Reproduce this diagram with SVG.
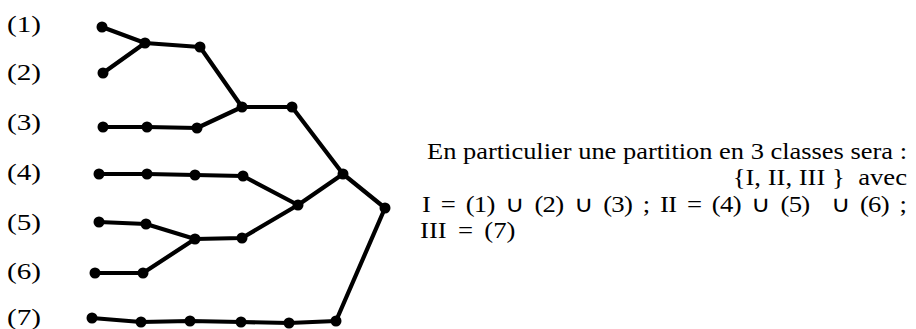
<svg xmlns="http://www.w3.org/2000/svg" width="916" height="329" viewBox="0 0 916 329">
<style>
.e{stroke:#000;stroke-width:4.2;fill:none;stroke-linejoin:round;stroke-linecap:round}
.n{fill:#000}
.lab{font-family:"Liberation Serif","Times New Roman",serif;font-size:23px;fill:#000}
.t{font-family:"Liberation Serif","Times New Roman",serif;font-size:23px;fill:#000}
.w{word-spacing:4px}
</style>
<rect width="916" height="329" fill="#fff"/>
<g id="labels">
<text class="lab" x="7" y="32" textLength="34" lengthAdjust="spacingAndGlyphs">(1)</text>
<text class="lab" x="7" y="80" textLength="34" lengthAdjust="spacingAndGlyphs">(2)</text>
<text class="lab" x="7" y="130" textLength="34" lengthAdjust="spacingAndGlyphs">(3)</text>
<text class="lab" x="7" y="180" textLength="34" lengthAdjust="spacingAndGlyphs">(4)</text>
<text class="lab" x="7" y="230" textLength="34" lengthAdjust="spacingAndGlyphs">(5)</text>
<text class="lab" x="7" y="279" textLength="34" lengthAdjust="spacingAndGlyphs">(6)</text>
<text class="lab" x="7" y="325" textLength="34" lengthAdjust="spacingAndGlyphs">(7)</text>
</g>
<g id="connectors">
<polyline class="e" points="102,27 145,43 200,47 242,107 292,107 343,174 385,208 336,321 289,323 241,322 190,321 141,322 92,318"/>
<polyline class="e" points="103,73 145,43"/>
<polyline class="e" points="103,127 147,127 197,128 242,107"/>
<polyline class="e" points="99,174 147,174 195,175 243,176 298,205 343,174"/>
<polyline class="e" points="99,222 146,224 195,239 242,238 298,205"/>
<polyline class="e" points="95,273 143,273 195,239"/>
</g>
<g id="nodes">
<circle id="n1" class="n" cx="102" cy="27" r="5.5"/>
<circle id="n2" class="n" cx="103" cy="73" r="5.5"/>
<circle id="j12" class="n" cx="145" cy="43" r="5.5"/>
<circle id="b12" class="n" cx="200" cy="47" r="5.5"/>
<circle id="n3a" class="n" cx="103" cy="127" r="5.5"/>
<circle id="n3b" class="n" cx="147" cy="127" r="5.5"/>
<circle id="n3c" class="n" cx="197" cy="128" r="5.5"/>
<circle id="j123" class="n" cx="242" cy="107" r="5.5"/>
<circle id="b123" class="n" cx="292" cy="107" r="5.5"/>
<circle id="n4a" class="n" cx="99" cy="174" r="5.5"/>
<circle id="n4b" class="n" cx="147" cy="174" r="5.5"/>
<circle id="n4c" class="n" cx="195" cy="175" r="5.5"/>
<circle id="n4d" class="n" cx="243" cy="176" r="5.5"/>
<circle id="j456" class="n" cx="298" cy="205" r="5.5"/>
<circle id="j16" class="n" cx="343" cy="174" r="5.5"/>
<circle id="root" class="n" cx="385" cy="208" r="5.5"/>
<circle id="n5a" class="n" cx="99" cy="222" r="5.5"/>
<circle id="n5b" class="n" cx="146" cy="224" r="5.5"/>
<circle id="j56" class="n" cx="195" cy="239" r="5.5"/>
<circle id="b56" class="n" cx="242" cy="238" r="5.5"/>
<circle id="n6a" class="n" cx="95" cy="273" r="5.5"/>
<circle id="n6b" class="n" cx="143" cy="273" r="5.5"/>
<circle id="n7a" class="n" cx="92" cy="318" r="5.5"/>
<circle id="n7b" class="n" cx="141" cy="322" r="5.5"/>
<circle id="n7c" class="n" cx="190" cy="321" r="5.5"/>
<circle id="n7d" class="n" cx="241" cy="322" r="5.5"/>
<circle id="n7e" class="n" cx="289" cy="323" r="5.5"/>
<circle id="n7f" class="n" cx="336" cy="321" r="5.5"/>
</g>
<g id="caption">
<text class="t" x="427" y="159" textLength="480" lengthAdjust="spacingAndGlyphs">En particulier une partition en 3 classes sera :</text>
<text class="t" transform="translate(907,185) scale(1.16,1)" x="0" y="0" text-anchor="end" xml:space="preserve">{I, II, III }  avec</text>
<text class="t w" transform="translate(422,212) scale(1.16,1)" x="0" y="0" textLength="418" lengthAdjust="spacing" xml:space="preserve">I = (1) ∪ (2) ∪ (3) ; II = (4) ∪ (5)  ∪ (6) ;</text>
<text class="t w" transform="translate(420,238) scale(1.16,1)" x="0" y="0">III = (7)</text>
</g>
</svg>
